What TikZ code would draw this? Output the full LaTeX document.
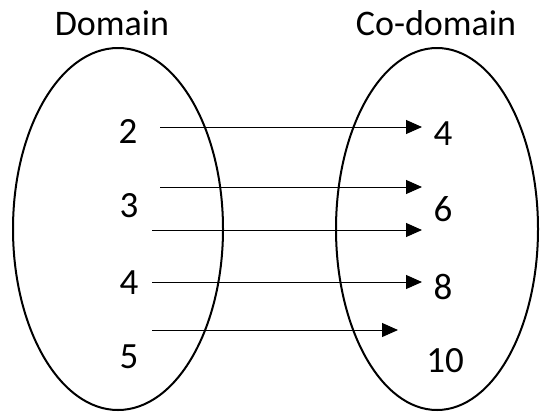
\documentclass[tikz,border=0pt]{standalone}
\usepackage{fontspec}
\setmainfont{Carlito}
\usetikzlibrary{arrows.meta}
\begin{document}
\begin{tikzpicture}[x=1pt,y=-1pt,
  setshape/.style={line width=2pt},
  maparrow/.style={line width=1pt,-{Triangle[length=16pt,width=14pt]}},
  lbl/.style={font=\fontsize{36}{43}\selectfont,inner sep=0pt},
  num/.style={font=\fontsize{37}{44}\selectfont,inner sep=0pt}]
\useasboundingbox (0,0) rectangle (540,413);
\draw[setshape] (118,229) ellipse [x radius=105, y radius=181];
\draw[setshape] (437,229) ellipse [x radius=101, y radius=181];
\node[lbl,anchor=base] (dom) at (112,35) {Domain};
\node[lbl,anchor=base] (codom) at (436,35) {Co-domain};
\node[num] (a2) at (128,131) {2};
\node[num] (a3) at (129,206) {3};
\node[num] (a4) at (129,283) {4};
\node[num] (a5) at (129,357) {5};
\node[num] (b4) at (443,134) {4};
\node[num] (b6) at (443,209) {6};
\node[num] (b8) at (443,287) {8};
\node[num] (b10) at (445,361) {10};
\coordinate (s1) at (160,127); \coordinate (e1) at (422,127);
\coordinate (s2) at (160,187); \coordinate (e2) at (422,187);
\coordinate (s3) at (152,230); \coordinate (e3) at (422,230);
\coordinate (s4) at (152,282); \coordinate (e4) at (422,282);
\coordinate (s5) at (152,330); \coordinate (e5) at (398,330);
\draw[maparrow] (s1) -- (e1);
\draw[maparrow] (s2) -- (e2);
\draw[maparrow] (s3) -- (e3);
\draw[maparrow] (s4) -- (e4);
\draw[maparrow] (s5) -- (e5);
\end{tikzpicture}
\end{document}
